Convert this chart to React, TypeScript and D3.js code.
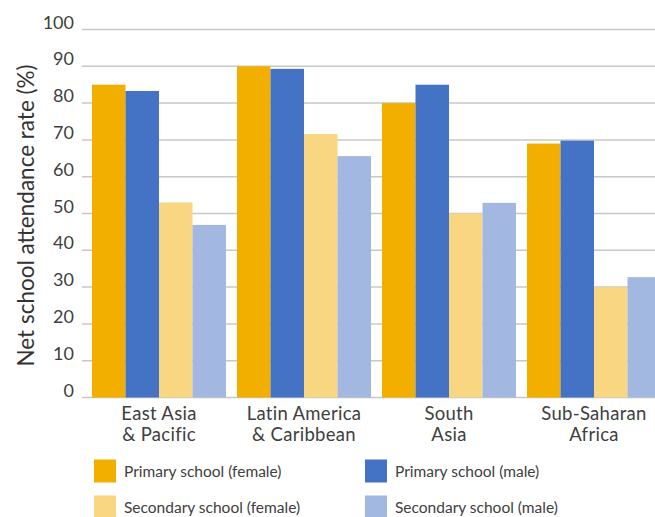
import React from "react";
import * as d3 from "d3";

const regions: string[][] = [
  ["East Asia", "& Pacific"],
  ["Latin America", "& Caribbean"],
  ["South", "Asia"],
  ["Sub-Saharan", "Africa"],
];
const seriesNames = [
  "Primary school (female)",
  "Primary school (male)",
  "Secondary school (female)",
  "Secondary school (male)",
];
const primaryFemale = [85, 90, 80, 69];
const primaryMale = [83.3, 89.3, 85, 69.8];
const secondaryFemale = [53, 71.6, 50, 30];
const secondaryMale = [46.9, 65.6, 52.9, 32.7];
const yTicks = [0, 10, 20, 30, 40, 50, 60, 70, 80, 90, 100];

const colors = ["#F2AF00", "#4472C4", "#F8D682", "#A2B8E0"];
const FONT = "Lato, 'Open Sans', sans-serif";
const TEXT = "#404040";

export default function App() {
  const W = 655;
  const H = 517;
  const series = [primaryFemale, primaryMale, secondaryFemale, secondaryMale];

  const y = d3.scaleLinear().domain([0, 100]).range([397.5, 29.5]);
  const x0 = d3
    .scaleBand<number>()
    .domain(d3.range(regions.length))
    .range([86.5, 666.5])
    .paddingInner(11 / 145)
    .paddingOuter(5.5 / 145);
  const x1 = d3
    .scaleBand<number>()
    .domain(d3.range(series.length))
    .range([0, x0.bandwidth()]);

  const gridX0 = 82;

  return (
    <svg
      width={W}
      height={H}
      style={{ position: "absolute", left: 0, top: 0, display: "block" }}
      fontFamily={FONT}
    >
      <rect width={W} height={H} fill="#fff" />
      {yTicks.map((t) => (
        <g key={t}>
          <line
            x1={gridX0}
            x2={W}
            y1={y(t)}
            y2={y(t)}
            stroke="#c8c8c8"
            strokeWidth={1.5}
          />
          <text
            x={74}
            y={y(t)}
            dy="-0.05em"
            textAnchor="end"
            fontSize={18}
            fill={TEXT}
          >
            {t}
          </text>
        </g>
      ))}
      {regions.map((r, i) => (
        <g key={i} transform={`translate(${x0(i)},0)`}>
          {series.map((s, j) => (
            <rect
              key={j}
              x={x1(j)}
              y={y(s[i])}
              width={x1.bandwidth()}
              height={y(0) - y(s[i])}
              fill={colors[j]}
            />
          ))}
          {r.map((line, k) => (
            <text
              key={k}
              x={x0.bandwidth() / 2}
              y={420 + k * 20.5}
              textAnchor="middle"
              fontSize={18.5}
              letterSpacing={0.3}
              fill={TEXT}
            >
              {line}
            </text>
          ))}
        </g>
      ))}
      <text
        transform={`translate(34,${(y(0) + y(100)) / 2 + 2}) rotate(-90)`}
        textAnchor="middle"
        fontSize={22.5}
        fill="#333"
      >
        Net school attendance rate (%)
      </text>
      {seriesNames.map((name, j) => {
        const col = j % 2;
        const row = Math.floor(j / 2);
        const lx = col === 0 ? 94 : 365;
        const ly = 459.5 + row * 36;
        return (
          <g key={name} transform={`translate(${lx},${ly})`}>
            <rect width={22} height={23} fill={colors[j]} />
            <text x={30} y={17} fontSize={15.5} fill={TEXT}>
              {name}
            </text>
          </g>
        );
      })}
    </svg>
  );
}
